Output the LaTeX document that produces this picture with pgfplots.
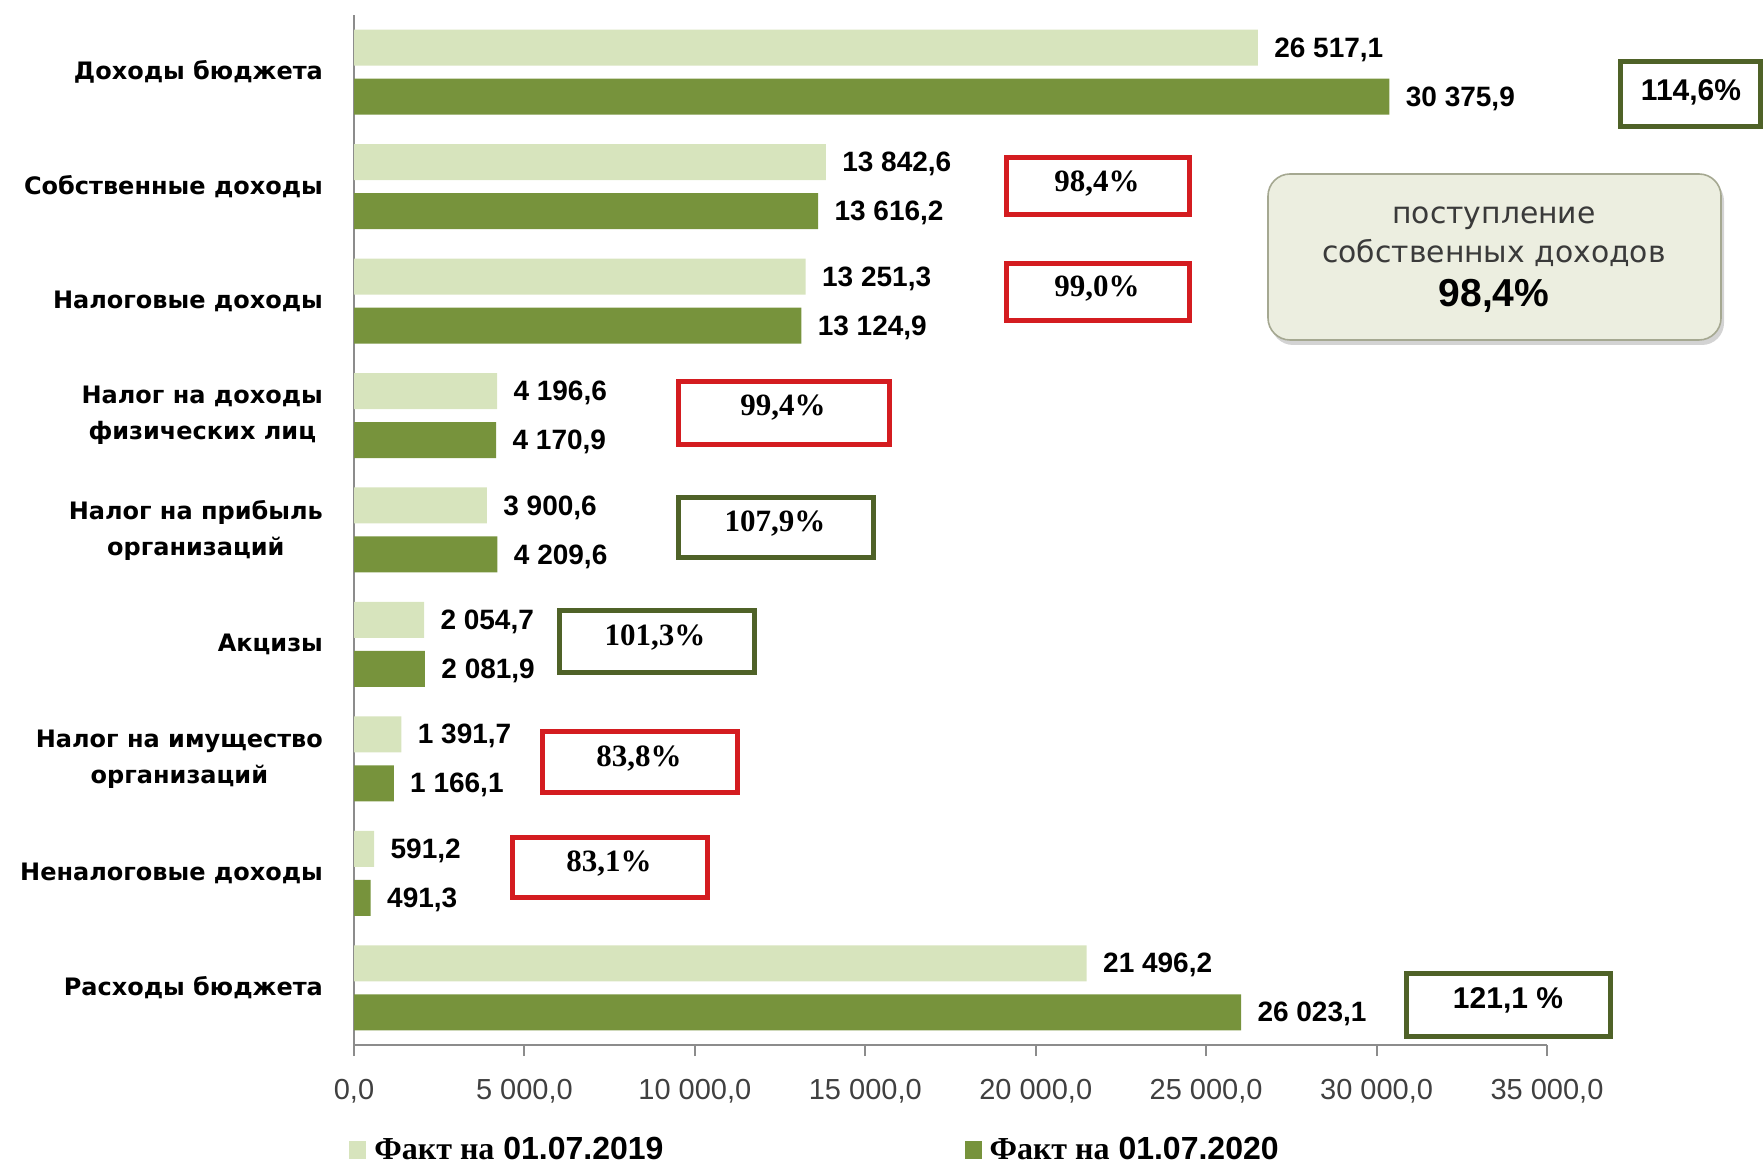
\documentclass[border=0pt]{standalone}
\usepackage{fontspec}
\setmainfont{Liberation Sans}
\newfontfamily\dvs{DejaVu Sans}
\newfontfamily\lserif{Liberation Serif}
\usepackage{pgfplots}
\pgfplotsset{compat=1.18}
\usetikzlibrary{shadows}
\definecolor{lightbar}{RGB}{215,228,189}
\definecolor{darkbar}{RGB}{119,147,60}
\definecolor{boxgreen}{RGB}{79,98,40}
\definecolor{boxred}{RGB}{212,28,32}
\definecolor{axisgray}{RGB}{140,140,140}
\definecolor{calloutfill}{RGB}{236,238,224}
\definecolor{calloutdraw}{RGB}{165,168,145}
\definecolor{ticktext}{RGB}{64,64,64}
\definecolor{callouttext}{RGB}{58,58,58}
\begin{document}
\begin{tikzpicture}
\useasboundingbox (0,0) rectangle (882pt,583pt);
\begin{axis}[
  at={(177pt,60.5pt)}, anchor=south west,
  width=596.5pt, height=515pt, scale only axis,
  xmin=0, xmax=35000, ymin=-0.5, ymax=8.5,
  axis x line=bottom, axis y line=left,
  axis line style={axisgray, line width=1.2pt, -},
  xbar, bar width=18pt, clip=false,
  xtick={0,5000,...,35000}, scaled x ticks=false,
  tick align=outside, major tick length=5.5pt,
  x tick style={axisgray, line width=1pt},
  ytick={0,...,8}, y tick style={draw=none},
  yticklabels={Расходы бюджета, Неналоговые доходы, {Налог на имущество\\организаций}, Акцизы, {Налог на прибыль\\организаций}, {Налог на доходы\\физических лиц}, Налоговые доходы, Собственные доходы, Доходы бюджета},
  yticklabel style={font=\dvs\bfseries\fontsize{12}{18}\selectfont, align=center, xshift=-6.5pt},
  xticklabel style={font=\fontsize{14.5}{16}\selectfont, text=ticktext, yshift=-8.3pt},
  /pgf/number format/fixed, /pgf/number format/fixed zerofill,
  /pgf/number format/precision=1, /pgf/number format/use comma,
  /pgf/number format/1000 sep={\ }, /pgf/number format/assume math mode=true,
  point meta=x, nodes near coords,
  every node near coord/.append style={font=\bfseries\fontsize{14}{16}\selectfont, text=black, anchor=west, xshift=4.7pt, yshift=-1pt},
  legend style={at={(0,0)}, anchor=north west, xshift=-8pt, yshift=-42pt, draw=none, fill=none,
    legend columns=2, font=\bfseries\fontsize{16}{18}\selectfont,
    /tikz/every even column/.append style={column sep=146pt}},
  legend cell align=left,
  legend image code/.code={\path (0pt,0pt) (13pt,0pt); \fill[#1,draw=none] (2.5pt,-4.5pt) rectangle (11pt,4.5pt);},
]
\addplot[fill=lightbar, draw=none, bar shift=12.25pt] coordinates {
  (26517.1,8) (13842.6,7) (13251.3,6) (4196.6,5) (3900.6,4)
  (2054.7,3) (1391.7,2) (591.2,1) (21496.2,0)};
\addlegendentry{{\lserif Факт на} 01.07.2019}
\addplot[fill=darkbar, draw=none, bar shift=-12.25pt] coordinates {
  (30375.9,8) (13616.2,7) (13124.9,6) (4170.9,5) (4209.6,4)
  (2081.9,3) (1166.1,2) (491.3,1) (26023.1,0)};
\addlegendentry{{\lserif Факт на} 01.07.2020}
\end{axis}
\begin{scope}[x=0.5pt, y=-0.5pt, shift={(0pt,583pt)}]
  % callout
  \path[draw=calloutdraw, fill=calloutfill, line width=0.8pt, rounded corners=11pt,
        drop shadow={shadow xshift=1.5pt, shadow yshift=-2.5pt, opacity=0.35}]
        (1268,174) rectangle (1721,340);
  \node[font=\dvs\fontsize{14.9}{17}\selectfont, text=callouttext] at (1494,218) {поступление};
  \node[font=\dvs\fontsize{14.9}{17}\selectfont, text=callouttext] at (1494,253) {собственных доходов};
  \node[font=\bfseries\fontsize{19.5}{21}\selectfont, text=black] at (1494,296) {98,4\%};
  % percentage boxes
  \tikzset{pbox/.style={line width=2.5pt}, ptxt/.style={font=\lserif\bfseries\fontsize{15.5}{17}\selectfont}}
  \draw[pbox, boxgreen] (1620.5,61.5) rectangle (1760.5,126.5);
  \node[font=\bfseries\fontsize{15}{17}\selectfont] at (1691,92) {114,6\%};
  \draw[pbox, boxred] (1006.5,157.5) rectangle (1189.5,214.5);
  \node[ptxt] at (1097,184) {98,4\%};
  \draw[pbox, boxred] (1006.5,263.5) rectangle (1189.5,320.5);
  \node[ptxt] at (1097,289) {99,0\%};
  \draw[pbox, boxred] (678.5,381.5) rectangle (889.5,444.5);
  \node[ptxt] at (783,408) {99,4\%};
  \draw[pbox, boxgreen] (678.5,497.5) rectangle (873.5,557.5);
  \node[ptxt] at (775,524) {107,9\%};
  \draw[pbox, boxgreen] (559.5,610.5) rectangle (754.5,672.5);
  \node[ptxt] at (655,638) {101,3\%};
  \draw[pbox, boxred] (542.5,731.5) rectangle (737.5,792.5);
  \node[ptxt] at (639,759) {83,8\%};
  \draw[pbox, boxred] (512.5,837.5) rectangle (707.5,897.5);
  \node[ptxt] at (609,864) {83,1\%};
  \draw[pbox, boxgreen] (1406.5,973.5) rectangle (1610.5,1036.5);
  \node[font=\bfseries\fontsize{15}{17}\selectfont] at (1508,1000) {121,1 \%};
\end{scope}
\end{tikzpicture}
\end{document}
